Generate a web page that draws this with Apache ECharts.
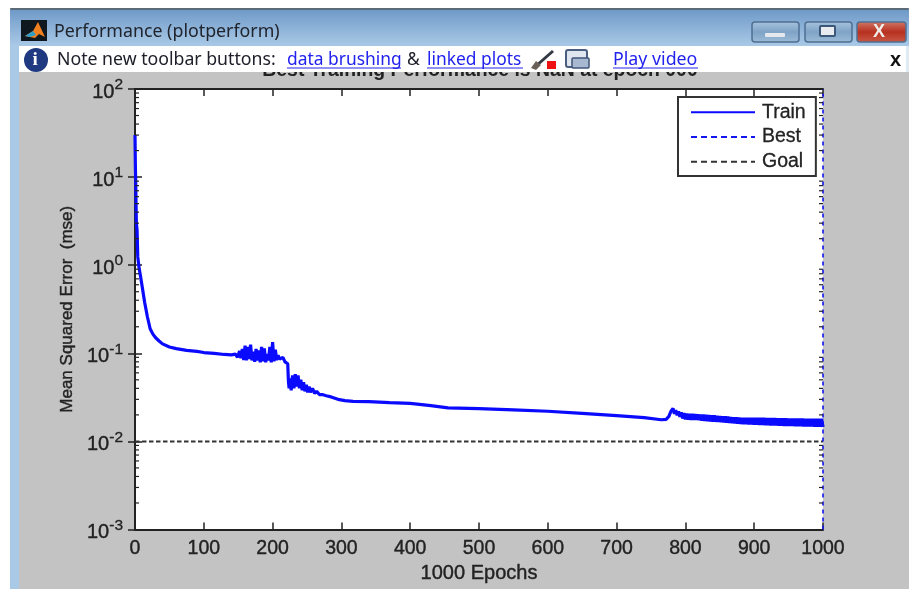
<!DOCTYPE html>
<html><head><meta charset="utf-8">
<style>html,body{margin:0;padding:0;background:#fff}#c{width:909px;height:589px;filter:blur(0.55px)}</style>
<script src="https://cdn.jsdelivr.net/npm/echarts@6/dist/echarts.min.js"></script>
</head><body><div id="c"></div>
<script>
const trainEpochs = [0,0.5,1,1.5,2,3,4,6,8,10,14,18,22,26,30,35,40,50,60,75,90,100,115,130,140,146,149,152,154,156,158,160,162,164,166,168,170,172,174,176,178,180,182,184,186,188,190,192,194,196,198,200,202,204,206,208,210,212,215,218,220,222,223,224,226,227,229,231,233,235,237,239,241,243,245,247,249,251,253,255,258,261,264,268,272,278,285,295,305,317,340,370,400,430,455,500,550,600,650,700,740,765,772,776,779,
782,784,786,788,790,792,794,796,798,800,802,804,806,808,810,812,814,816,818,820,822,824,826,828,830,832,834,836,838,840,842,844,846,848,850,852,854,856,858,860,862,864,866,868,870,872,874,876,878,880,882,884,886,888,890,892,894,896,898,900,902,904,906,908,910,912,914,916,918,920,922,924,926,928,930,932,934,936,938,940,942,944,946,948,950,952,954,956,958,960,962,964,966,968,970,972,974,976,978,980,982,984,986,988,990,992,994,996,998,1000];
const trainValues = [30,14,9,5,3,2.5,1.25,0.92,0.75,0.6,0.38,0.26,0.19,0.165,0.15,0.138,0.128,0.118,0.113,0.108,0.105,0.102,0.1,0.097,0.096,0.098,0.09,0.106,0.088,0.112,0.084,0.122,0.083,0.118,0.086,0.125,0.083,0.104,0.08,0.112,0.083,0.108,0.079,0.118,0.081,0.114,0.079,0.098,0.083,0.118,0.079,0.134,0.081,0.11,0.084,0.095,0.086,0.082,0.09,0.08,0.084,0.076,0.048,0.04,0.052,0.038,0.056,0.04,0.058,0.042,0.056,0.04,0.05,0.038,0.047,0.037,0.044,0.036,0.042,0.036,0.04,0.035,0.037,0.034,0.034,0.033,0.032,0.03,0.029,0.0285,0.0283,0.0275,0.027,0.0255,0.024,0.0236,0.0228,0.022,0.0208,0.0196,0.0186,0.0176,0.0178,0.0192,0.022,
0.0237,0.0206,0.0226,0.0198,0.0219,0.019,0.0214,0.0182,0.021,0.0178,0.0207,0.0177,0.0206,0.0176,0.0205,0.0176,0.0204,0.0175,0.0203,0.0174,0.0202,0.0172,0.0201,0.0171,0.02,0.017,0.0199,0.0169,0.0198,0.0168,0.0197,0.0167,0.0195,0.0166,0.0194,0.0165,0.0193,0.0164,0.0192,0.0163,0.0191,0.0162,0.0189,0.0161,0.0188,0.016,0.0187,0.0159,0.0186,0.0158,0.0185,0.0157,0.0185,0.0157,0.0185,0.0156,0.0185,0.0156,0.0185,0.0155,0.0185,0.0155,0.0185,0.0154,0.0185,0.0154,0.0185,0.0153,0.0184,0.0153,0.0184,0.0152,0.0184,0.0152,0.0184,0.0152,0.0183,0.0151,0.0183,0.0151,0.0183,0.015,0.0183,0.015,0.0182,0.015,0.0182,0.015,0.0182,0.0149,0.0182,0.0149,0.0182,0.0149,0.0182,0.0148,0.0181,0.0148,0.0181,0.0148,0.0181,0.0148,0.0181,0.0147,0.0181,0.0147,0.0181,0.0147,0.0181,0.0146,0.0181];
const bestEpochs = [1000,1000];
const bestValues = [0.001,100];
const goalEpochs = [0,1000];
const goalValues = [0.01,0.01];
const minorTickValues = [0.002,0.003,0.004,0.005,0.006,0.007,0.008,0.009,0.02,0.03,0.04,0.05,0.06,0.07,0.08,0.09,0.2,0.3,0.4,0.5,0.6,0.7,0.8,0.9,2,3,4,5,6,7,8,9,20,30,40,50,60,70,80,90];
const xTicks = [0,100,200,300,400,500,600,700,800,900,1000];
const zip = (a,b) => a.map((v,i)=>[v,b[i]]);

const chart = echarts.init(document.getElementById('c'),null,{renderer:'canvas'});
const uiFont = '"Noto Sans", sans-serif';
const axisFont = '"Liberation Sans", Arial, sans-serif';
const T = (x,y,text,size,fill,extra) => ({type:'text',z:100,style:Object.assign({x,y,text,fill,font:size+'px '+uiFont,textVerticalAlign:'middle'},extra||{})});
const R = (x,y,w,h,fill,r,stroke,lw) => ({type:'rect',z:100,shape:{x,y,width:w,height:h,r:r||0},style:{fill,stroke:stroke||null,lineWidth:lw||0}});
const L = (x1,y1,x2,y2,stroke,lw) => ({type:'line',z:101,shape:{x1,y1,x2,y2},style:{stroke,lineWidth:lw||1}});
const P = (points,fill) => ({type:'polygon',z:101,shape:{points},style:{fill}});
const grad = (stops) => new echarts.graphic.LinearGradient(0,0,0,1,stops.map((c,i)=>({offset:i/(stops.length-1),color:c})));
const btn = (x,w,c1,c2,c3) => R(x,22,w,20,grad([c1,c2,c3]),3,'#4f6f92',1.5);

const chrome = [
  R(0,0,909,8,'#ffffff'),
  R(0,0,10,589,'#ffffff'),
  R(10,8,899,2,'#5b6a78',2),
  R(10,10,899,36,grad(['#6f9ac8','#8db2d8','#a9c9e6'])),
  R(10,46,9,543,'#a9c9e6'),
  R(19,46,887,26,'#ffffff'),
  R(906,46,3,26,'#dfeaf3'),
  R(21,20,26,21,'#10181f'),
  P([[25,36],[33,31],[38,22],[45,37],[39,34],[35,38]],'#f08020'),
  P([[25,36],[33,31],[36,35],[30,37]],'#2f9fc8'),
  T(54,32,'Performance (plotperform)',17.8,'#20242c'),
  btn(752,47,'#a8c4de','#7fa3c6','#9dbcd8'),
  R(765,33,20,4,'#e4e8ee',1),
  btn(805,47,'#a8c4de','#7fa3c6','#9dbcd8'),
  R(820,26,15,10,'#e8ecf0',1,'#3c5878',2),
  btn(857,49,'#cf7a68','#b8301f','#c85a46'),
  T(873,32,'X',17,'#f0ece8',{font:'bold 18px '+axisFont}),
  {type:'circle',z:100,shape:{cx:36,cy:60,r:12},style:{fill:'#1f3a80'}},
  T(32.5,60,'i',19,'#ffffff',{font:'bold 19px "Liberation Serif", serif'}),
  T(57,60,'Note new toolbar buttons:',17.7,'#20202c'),
  T(287,60,'data brushing',17.4,'#2222ee'),
  L(287,68,401,68,'#2222ee',1),
  T(407,60,'&',17.4,'#20202c'),
  T(427,60,'linked plots',17.4,'#2222ee'),
  L(427,68,523,68,'#2222ee',1),
  L(536,66,553,51,'#333a44',3),
  P([[531,68],[536,61],[541,65],[536,70]],'#6a6258'),
  R(547,61,9,8,'#ee1111'),
  R(566,50,21,17,'#dfe6f0',2,'#4a5f80',2),
  R(572,58,17,10,'#a8b8d0',1,'#3f5478',1.5),
  T(613,60,'Play video',17.8,'#2222ee'),
  L(613,68,698,68,'#2222ee',1),
  T(890,60,'x',21,'#111111',{font:'bold 20px '+axisFont}),
];

chart.setOption({
  animation:false,
  backgroundColor:'#c3c3c3',
  title:{text:'Best Training Performance is NaN at epoch 000',left:475,textAlign:'center',top:56,z:6,
    textStyle:{fontFamily:axisFont,fontWeight:'bold',fontSize:19.4,color:'#222'}},
  grid:{left:135,top:89,width:688,height:441,show:true,backgroundColor:'#ffffff',borderWidth:0,containLabel:false},
  legend:{show:true,itemStyle:{color:'rgba(0,0,0,0)',borderWidth:0,opacity:0},data:[{name:'Train'},{name:'Best',lineStyle:{type:[6,4]}},{name:'Goal',lineStyle:{type:[6,4]}}],orient:'vertical',left:678,top:97,itemWidth:64,itemHeight:14,itemGap:4.5,
    padding:[5,10,4,12],backgroundColor:'#fff',borderColor:'#333',borderWidth:2,borderRadius:0,align:'left',
    textStyle:{fontFamily:axisFont,fontSize:19.5,color:'#222',textBorderColor:'#222',textBorderWidth:0.3,padding:[0,0,0,2]},z:20},
  xAxis:[
    {type:'value',min:0,max:1000,interval:100,position:'bottom',
     name:'1000 Epochs',nameLocation:'middle',nameGap:32,
     nameTextStyle:{fontFamily:axisFont,fontSize:20,color:'#222',textBorderColor:'#222',textBorderWidth:0.4},
     axisLine:{show:true,lineStyle:{color:'#222',width:2}},
     axisTick:{show:true,inside:true,length:7,lineStyle:{color:'#222',width:1.5}},
     axisLabel:{margin:9,fontFamily:axisFont,fontSize:19.5,color:'#222',textBorderColor:'#222',textBorderWidth:0.4,
       showMinLabel:true,showMaxLabel:true,formatter:v=>xTicks.includes(v)?String(v):''},
     splitLine:{show:false}},
    {type:'value',min:0,max:1000,interval:100,position:'top',
     axisLine:{show:true,lineStyle:{color:'#222',width:2}},
     axisTick:{show:true,inside:true,length:7,lineStyle:{color:'#222',width:1.5}},
     axisLabel:{show:false},splitLine:{show:false}}
  ],
  yAxis:[
    {type:'log',logBase:10,min:0.001,max:100,position:'left',
     name:'Mean Squared Error  (mse)',nameLocation:'middle',nameRotate:90,nameGap:55,
     nameTextStyle:{fontFamily:axisFont,fontSize:17,color:'#222',textBorderColor:'#222',textBorderWidth:0.4},
     axisLine:{show:true,lineStyle:{color:'#222',width:2}},
     axisTick:{show:true,inside:true,length:7,lineStyle:{color:'#222',width:1.5}},
     axisLabel:{margin:12,formatter:v=>'{b|10}{s|'+Math.round(Math.log10(v))+'}',
       rich:{b:{fontFamily:axisFont,fontSize:20,color:'#222',textBorderColor:'#222',textBorderWidth:0.4,padding:[6,0,0,0]},
             s:{fontFamily:axisFont,fontSize:15.5,color:'#222',textBorderColor:'#222',textBorderWidth:0.3,padding:[0,0,8,0]}}},
     splitLine:{show:false}},
    {type:'log',logBase:10,min:0.001,max:100,position:'right',
     axisLine:{show:true,lineStyle:{color:'#222',width:2}},
     axisTick:{show:true,inside:true,length:7,lineStyle:{color:'#222',width:1.5}},
     axisLabel:{show:false},splitLine:{show:false}}
  ],
  series:[
    {name:'Goal',type:'line',symbol:'none',data:zip(goalEpochs,goalValues),lineStyle:{color:'#333',width:2,type:[4.5,2.5]},itemStyle:{color:'#333'},z:3},
    {name:'Best',type:'line',symbol:'none',data:zip(bestEpochs,bestValues),lineStyle:{color:'#1515ee',width:1.6,type:[4,4]},itemStyle:{color:'#1515ee'},clip:false,z:4},
    {name:'Train',type:'line',symbol:'none',data:zip(trainEpochs,trainValues),lineStyle:{color:'#0a0aff',width:3.2},itemStyle:{color:'#0a0aff'},z:5,clip:true},
    {name:'minor',type:'custom',clip:false,silent:true,z:6,data:minorTickValues.map(v=>[0,v]),encode:{x:0,y:1},
      renderItem:(params,api)=>{
        const v=api.value(1);
        const a=api.coord([0,v]), b=api.coord([1000,v]);
        const st={stroke:'#222',lineWidth:1.2};
        return {type:'group',children:[
          {type:'line',shape:{x1:a[0],y1:a[1],x2:a[0]+4,y2:a[1]},style:st},
          {type:'line',shape:{x1:b[0],y1:b[1],x2:b[0]-4,y2:b[1]},style:st}]};
      }}
  ],
  graphic:{elements:chrome}
});
</script></body></html>
